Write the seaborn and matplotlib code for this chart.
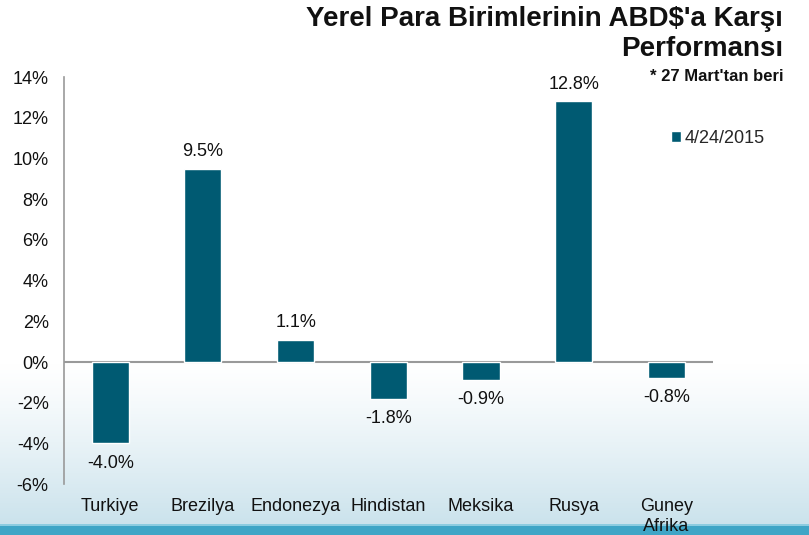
import matplotlib
matplotlib.use('Agg')
import matplotlib.pyplot as plt
import seaborn as sns
import numpy as np
from matplotlib.ticker import FuncFormatter

# data
countries = ['Turkiye', 'Brezilya', 'Endonezya', 'Hindistan', 'Meksika', 'Rusya', 'Guney\nAfrika']
values = [-4.0, 9.5, 1.1, -1.8, -0.9, 12.8, -0.8]
series_label = '4/24/2015'
title = "Yerel Para Birimlerinin ABD$'a Karşı\nPerformansı"
subtitle = "* 27 Mart'tan beri"
y_ticks = list(range(-6, 15, 2))

bar_color = '#005a72'
fs = 13

sns.set_style('white')
plt.rcParams['font.family'] = ['Liberation Sans', 'DejaVu Sans']

fig = plt.figure(figsize=(8.09, 5.35), dpi=100)

# soft blue backdrop at the bottom of the slide
bg = fig.add_axes([0, 0, 1, 1], zorder=-10)
grad = np.linspace(0, 1, 535)[:, None]
ramp = np.clip((grad - 0.68) / 0.32, 0, 1) ** 1.2
top_col = np.array([1.0, 1.0, 1.0])
bot_col = np.array([0.78, 0.88, 0.92])
img = top_col * (1 - ramp[..., None]) + bot_col * ramp[..., None]
img = np.repeat(img, 10, axis=1)
img[-9:, :, :] = np.array([0.25, 0.65, 0.78])
img[-11:-9, :, :] = np.array([0.55, 0.80, 0.88])
bg.imshow(img, aspect='auto', extent=[0, 1, 0, 1])
bg.axis('off')

ax = fig.add_axes([0.079, 0.095, 0.802, 0.761])
ax.patch.set_alpha(0)
sns.barplot(x=countries, y=values, color=bar_color, saturation=1, width=0.4,
            label=series_label, ax=ax)

ax.set_ylim(-6, 14)
ax.set_yticks(y_ticks)
ax.yaxis.set_major_formatter(FuncFormatter(lambda v, p: f'{v:.0f}%'))
ax.axhline(0, color='#999999', lw=1.5, zorder=0.5)
sns.despine(ax=ax, top=True, right=True, bottom=True)
ax.spines['left'].set_color('#999999')
ax.spines['left'].set_linewidth(1.2)
ax.tick_params(axis='both', length=0, labelsize=fs, colors='#111111')
ax.tick_params(axis='x', pad=10)
ax.tick_params(axis='y', pad=11)
for t in ax.get_xticklabels():
    t.set_verticalalignment('top')
    t.set_linespacing(1.25)

for i, v in enumerate(values):
    if v >= 0:
        ax.annotate(f'{v:.1f}%', (i, v), xytext=(0, 6), textcoords='offset points',
                    ha='center', va='bottom', fontsize=fs, color='#111111')
    else:
        ax.annotate(f'{v:.1f}%', (i, v), xytext=(0, -8), textcoords='offset points',
                    ha='center', va='top', fontsize=fs, color='#111111')

ax.legend(loc='upper left', bbox_to_anchor=(0.91, 0.91), frameon=False,
          fontsize=fs, handlelength=0.6, handleheight=0.6, handletextpad=0.2)

fig.text(0.968, 0.988, title, ha='right', va='top', fontsize=20, fontweight='bold',
         linespacing=1.2, color='#111111')
fig.text(0.968, 0.857, subtitle, ha='right', va='center', fontsize=12,
         fontweight='bold', color='#111111')

fig.savefig('out.png', dpi=100)
